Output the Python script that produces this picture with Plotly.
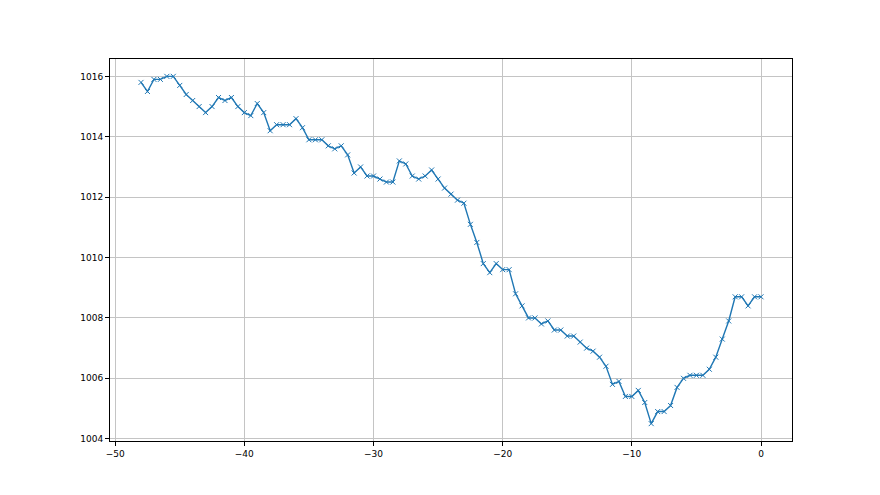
import plotly.graph_objects as go

x_hours = [-48 + 0.5 * i for i in range(97)]
pressure = [
    1015.8, 1015.5, 1015.9, 1015.9, 1016.0, 1016.0, 1015.7, 1015.4, 1015.2, 1015.0,
    1014.8, 1015.0, 1015.3, 1015.2, 1015.3, 1015.0, 1014.8, 1014.7, 1015.1, 1014.8,
    1014.2, 1014.4, 1014.4, 1014.4, 1014.6, 1014.3, 1013.9, 1013.9, 1013.9, 1013.7,
    1013.6, 1013.7, 1013.4, 1012.8, 1013.0, 1012.7, 1012.7, 1012.6, 1012.5, 1012.5,
    1013.2, 1013.1, 1012.7, 1012.6, 1012.7, 1012.9, 1012.6, 1012.3, 1012.1, 1011.9,
    1011.8, 1011.1, 1010.5, 1009.8, 1009.5, 1009.8, 1009.6, 1009.6, 1008.8, 1008.4,
    1008.0, 1008.0, 1007.8, 1007.9, 1007.6, 1007.6, 1007.4, 1007.4, 1007.2, 1007.0,
    1006.9, 1006.7, 1006.4, 1005.8, 1005.9, 1005.4, 1005.4, 1005.6, 1005.2, 1004.5,
    1004.9, 1004.9, 1005.1, 1005.7, 1006.0, 1006.1, 1006.1, 1006.1, 1006.3, 1006.7,
    1007.3, 1007.9, 1008.7, 1008.7, 1008.4, 1008.7, 1008.7,
]
x_ticks = [-50, -40, -30, -20, -10, 0]
y_ticks = [1004, 1006, 1008, 1010, 1012, 1014, 1016]

color = "#1f77b4"
fig = go.Figure(go.Scatter(
    x=x_hours, y=pressure, mode="lines+markers",
    line=dict(color=color, width=1.4),
    marker=dict(symbol="x-thin", size=5, line=dict(color=color, width=1)),
    showlegend=False,
))

axis_common = dict(
    showline=True, linecolor="black", linewidth=1, mirror=True,
    ticks="outside", ticklen=4, tickcolor="black", tickwidth=1,
    showgrid=True, gridcolor="#c4c4c4", gridwidth=0.8,
    zeroline=False, tickfont=dict(family="DejaVu Sans", size=9, color="black"),
)
fig.update_xaxes(range=[-50.4, 2.4], tickvals=x_ticks,
                 ticktext=["\u2212" + str(-v) if v < 0 else str(v) for v in x_ticks],
                 **axis_common)
fig.update_yaxes(range=[1003.925, 1016.575], tickvals=y_ticks, **axis_common)
fig.update_layout(
    width=880, height=495,
    margin=dict(l=102, r=96, t=51, b=62),
    plot_bgcolor="white", paper_bgcolor="white",
)
fig.write_html("out.html")
